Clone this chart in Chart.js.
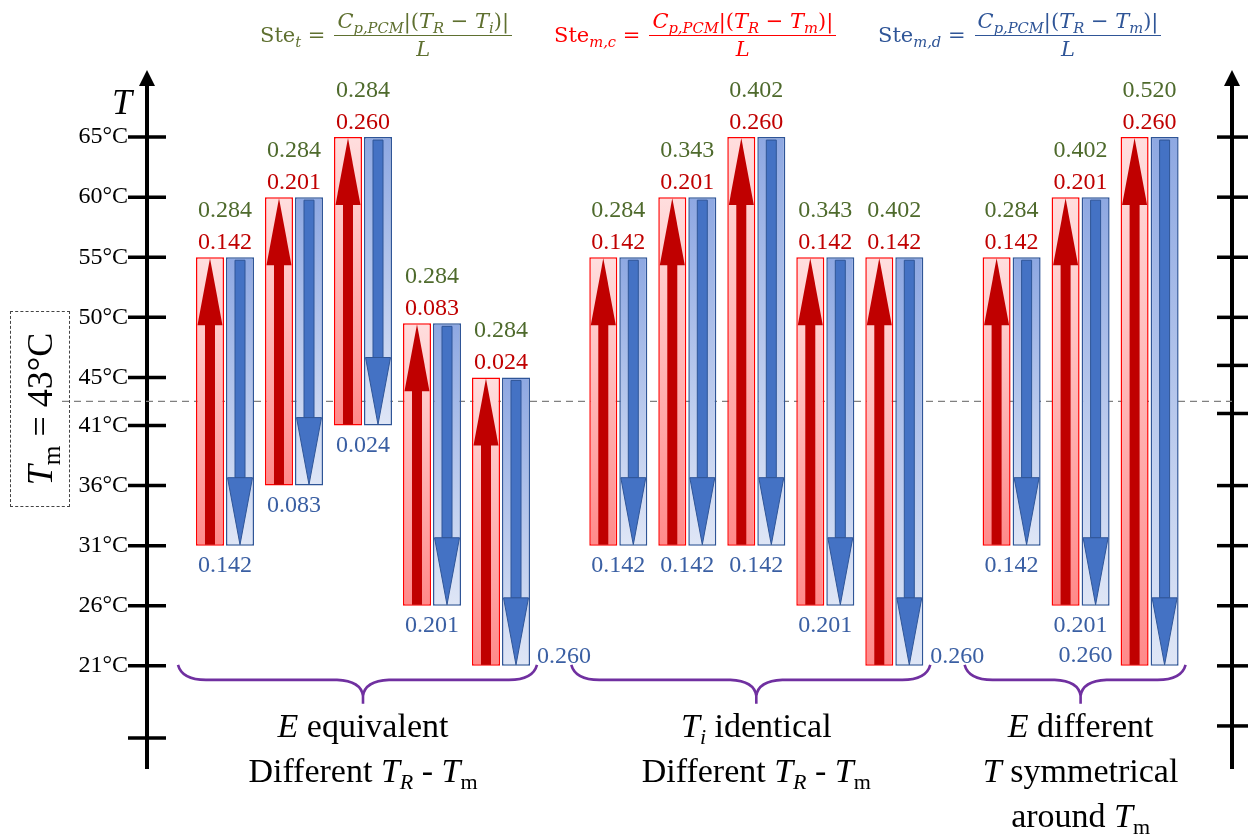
<!DOCTYPE html>
<html>
<head>
<meta charset="utf-8">
<script src="https://cdn.jsdelivr.net/npm/chart.js@4.4.1/dist/chart.umd.min.js"></script>
<style>
body { margin: 0; background: #fff; }
#wrap { position: relative; width: 1260px; height: 840px; overflow: hidden; }
#wrap canvas { position: absolute; left: 0; top: 0; }
.eq { position: absolute; top: 9px; display: flex; align-items: center; font-family: 'DejaVu Serif'; font-size: 21px; white-space: nowrap; }
.eq sub { font-size: 0.7em; vertical-align: -0.35em; line-height: 0; }
.fr { display: inline-flex; flex-direction: column; align-items: center; margin-left: 9px; }
.nu { border-bottom: 1.5px solid currentColor; padding: 0 3px 2px; }
.de { padding-top: 1px; }
#tm { position: absolute; left: 10px; top: 311px; width: 58px; height: 194px; border: 1px dashed #444; }
#tm span { position: absolute; left: 50%; top: 50%; transform: translate(-50%, -50%) rotate(-90deg); font: 36px 'Liberation Serif'; white-space: nowrap; }
#tm sub { font-size: 0.7em; vertical-align: -0.3em; line-height: 0; }
</style>
</head>
<body>
<div id="wrap">
	<canvas id="canvasStefan" width="1260" height="840"></canvas>

	<div class="eq" style="left:260px; color:#5f7030">
		<span>Ste<sub><i>t</i></sub> =</span>
		<span class="fr"><span class="nu"><i>C</i><sub><i>p,PCM</i></sub>|(<i>T</i><sub><i>R</i></sub> −&nbsp;<i>T</i><sub><i>i</i></sub>)|</span><span class="de"><i>L</i></span></span>
	</div>
	<div class="eq" style="left:554px; color:#ff0000">
		<span>Ste<sub><i>m,c</i></sub> =</span>
		<span class="fr"><span class="nu"><i>C</i><sub><i>p,PCM</i></sub>|(<i>T</i><sub><i>R</i></sub> −&nbsp;<i>T</i><sub><i>m</i></sub>)|</span><span class="de"><i>L</i></span></span>
	</div>
	<div class="eq" style="left:878px; color:#2f5597">
		<span>Ste<sub><i>m,d</i></sub> =</span>
		<span class="fr"><span class="nu"><i>C</i><sub><i>p,PCM</i></sub>|(<i>T</i><sub><i>R</i></sub> −&nbsp;<i>T</i><sub><i>m</i></sub>)|</span><span class="de"><i>L</i></span></span>
	</div>

	<div id="tm"><span><i>T</i><sub>m</sub> = 43°C</span></div>
</div>

<script>
"use strict"

// data
const groupSizes = [5, 5, 3]
const lowT = [31, 36, 41, 26, 21, 31, 31, 31, 26, 21, 31, 26, 21]
const highT = [55, 60, 65, 49.5, 45, 55, 60, 65, 55, 55, 55, 60, 65]
const steT = ['0.284', '0.284', '0.284', '0.284', '0.284', '0.284', '0.343', '0.402', '0.343', '0.402', '0.284', '0.402', '0.520']
const steMc = ['0.142', '0.201', '0.260', '0.083', '0.024', '0.142', '0.201', '0.260', '0.142', '0.142', '0.142', '0.201', '0.260']
const steMd = ['0.142', '0.083', '0.024', '0.201', '0.260', '0.142', '0.142', '0.142', '0.201', '0.260', '0.142', '0.201', '0.260']
const leftTicks = [65, 60, 55, 50, 45, 41, 36, 31, 26, 21, 15]
const rightTicks = [65, 60, 55, 50, 46, 42, 36, 31, 26, 21, 16]
const meltT = 43

// group captions, as runs of [text, style]  (i = italic, sub / isub = subscript)
const groupLabels = [
	[[['E', 'i'], [' equivalent']], [['Different '], ['T', 'i'], ['R', 'isub'], [' - '], ['T', 'i'], ['m', 'sub']]],
	[[['T', 'i'], ['i', 'isub'], [' identical']], [['Different '], ['T', 'i'], ['R', 'isub'], [' - '], ['T', 'i'], ['m', 'sub']]],
	[[['E', 'i'], [' different']], [['T', 'i'], [' symmetrical']], [['around '], ['T', 'i'], ['m', 'sub']]]
]

// slot positions: bars side by side in a group, wider gap between groups
const groupGap = 1.7
const slots = []
let pos = 0
groupSizes.forEach(function (n) {
	for (let k = 0; k < n; k++) slots.push(pos++)
	pos += groupGap - 1
})
const slotPx = 69
const firstOffsetPx = 78
const plotWidthPx = 1085
const xMin = -firstOffsetPx / slotPx
const xMax = xMin + plotWidthPx / slotPx

const serif = '"Liberation Serif", "Times New Roman", serif'
const green = '#4e6a2c', red = '#c00000', blue = '#3a5fa3'

function vGrad(topColor, bottomColor) {
	return function (ctx) {
		if (ctx.type !== 'data') return topColor
		const ys = ctx.chart.scales.y
		if (!ys) return topColor
		const y0 = ys.getPixelForValue(ctx.raw.y[1])
		const y1 = ys.getPixelForValue(ctx.raw.y[0])
		if (!isFinite(y0) || !isFinite(y1) || y0 === y1) return topColor
		const g = ctx.chart.ctx.createLinearGradient(0, y0, 0, y1)
		g.addColorStop(0, topColor)
		g.addColorStop(1, bottomColor)
		return g
	}
}

function richText(c, runs, cx, base, size, color) {
	const fontOf = function (st) {
		return (st.indexOf('i') >= 0 ? 'italic ' : '') + Math.round(st.indexOf('sub') >= 0 ? size * 0.66 : size) + 'px ' + serif
	}
	const widths = runs.map(function (r) {
		c.font = fontOf(r[1] || '')
		return c.measureText(r[0]).width
	})
	let x = cx - widths.reduce((a, b) => a + b, 0) / 2
	c.fillStyle = color
	c.textAlign = 'left'
	c.textBaseline = 'alphabetic'
	runs.forEach(function (r, i) {
		const st = r[1] || ''
		c.font = fontOf(st)
		c.fillText(r[0], x, base + (st.indexOf('sub') >= 0 ? size * 0.22 : 0))
		x += widths[i]
	})
}

function barBox(el) {
	const p = el.getProps(['x', 'y', 'base', 'width'], true)
	return { x: p.x, w: p.width, top: Math.min(p.y, p.base), bot: Math.max(p.y, p.base) }
}

// dashed melting temperature line, under the bars
const meltLinePlugin = {
	id: 'meltLine',
	beforeDatasetsDraw(chart) {
		const c = chart.ctx
		const y = chart.scales.y.getPixelForValue(meltT)
		c.save()
		c.strokeStyle = '#808080'
		c.lineWidth = 1.3
		c.setLineDash([7, 5])
		c.beginPath()
		c.moveTo(62, y)
		c.lineTo(chart.scales.y2.left, y)
		c.stroke()
		c.restore()
	}
}

// arrows inside the bars + value labels
const arrowPlugin = {
	id: 'arrows',
	afterDatasetsDraw(chart) {
		const c = chart.ctx
		const heat = chart.getDatasetMeta(0).data
		const cool = chart.getDatasetMeta(1).data
		const head = 68
		const lowest = Math.min.apply(null, lowT)
		c.save()
		heat.forEach(function (el) {
			const b = barBox(el)
			c.fillStyle = red
			c.fillRect(b.x - 5, b.top + head - 2, 10, b.bot - b.top - head + 1)
			c.beginPath()
			c.moveTo(b.x, b.top + 1)
			c.lineTo(b.x + b.w / 2 - 1.5, b.top + head)
			c.lineTo(b.x - b.w / 2 + 1.5, b.top + head)
			c.closePath()
			c.fill()
		})
		cool.forEach(function (el) {
			const b = barBox(el)
			c.fillStyle = '#4472c4'
			c.strokeStyle = '#2f5597'
			c.lineWidth = 1
			c.beginPath()
			c.rect(b.x - 5, b.top + 3, 10, b.bot - head - b.top - 3)
			c.fill()
			c.stroke()
			c.beginPath()
			c.moveTo(b.x - b.w / 2 + 1.5, b.bot - head)
			c.lineTo(b.x + b.w / 2 - 1.5, b.bot - head)
			c.lineTo(b.x, b.bot - 1)
			c.closePath()
			c.fill()
			c.stroke()
		})

		c.font = '24px ' + serif
		c.textBaseline = 'alphabetic'
		heat.forEach(function (el, i) {
			const h = barBox(el)
			const d = barBox(cool[i])
			const cx = (h.x + d.x) / 2
			c.textAlign = 'center'
			c.fillStyle = red
			c.fillText(steMc[i], cx, h.top - 8)
			c.fillStyle = green
			c.fillText(steT[i], cx, h.top - 40)
			c.fillStyle = blue
			if (lowT[i] === lowest) {
				if (i === lowT.length - 1) {
					c.textAlign = 'right'
					c.fillText(steMd[i], h.x - h.w / 2 - 8, d.bot - 4)
				} else {
					c.textAlign = 'left'
					c.fillText(steMd[i], d.x + d.w / 2 + 7, d.bot - 3)
				}
			} else {
				c.fillText(steMd[i], cx, d.bot + 26)
			}
		})
		c.restore()
	}
}

// axis arrows, crossing tick marks, braces and group captions
const decorPlugin = {
	id: 'decor',
	afterDraw(chart) {
		const c = chart.ctx
		const ys = chart.scales.y
		const ys2 = chart.scales.y2
		const top = chart.chartArea.top
		c.save()
		c.fillStyle = '#000'
		c.strokeStyle = '#000'
		;[ys.right, ys2.left].forEach(function (ax) {
			c.beginPath()
			c.moveTo(ax, top - 13)
			c.lineTo(ax + 8, top + 3)
			c.lineTo(ax - 8, top + 3)
			c.closePath()
			c.fill()
		})
		c.lineWidth = 3.5
		ys.ticks.forEach(function (t) {
			const y = ys.getPixelForValue(t.value)
			c.beginPath()
			c.moveTo(ys.right - 19, y)
			c.lineTo(ys.right + 19, y)
			c.stroke()
		})
		ys2.ticks.forEach(function (t) {
			const y = ys2.getPixelForValue(t.value)
			c.beginPath()
			c.moveTo(ys2.left - 15, y)
			c.lineTo(ys2.left + 16, y)
			c.stroke()
		})
		c.font = 'italic 36px ' + serif
		c.textAlign = 'left'
		c.fillText('T', ys.right - 35, top + 31)

		// braces
		const heat = chart.getDatasetMeta(0).data
		const cool = chart.getDatasetMeta(1).data
		const yBase = ys.getPixelForValue(Math.min.apply(null, lowT))
		const y0 = yBase - 1, y1 = yBase + 14, yTip = yBase + 38
		let start = 0
		groupSizes.forEach(function (n, g) {
			const first = (heat[start].x + cool[start].x) / 2
			const last = (heat[start + n - 1].x + cool[start + n - 1].x) / 2
			const x0 = first - 47, x1 = last + 36, xc = (first + last) / 2
			c.strokeStyle = '#7030a0'
			c.lineWidth = 2.6
			c.beginPath()
			c.moveTo(x0, y0)
			c.quadraticCurveTo(x0 + 4, y1, x0 + 28, y1)
			c.lineTo(xc - 26, y1)
			c.quadraticCurveTo(xc - 2, y1 + 1, xc, y1 + 16)
			c.lineTo(xc, yTip)
			c.moveTo(x1, y0)
			c.quadraticCurveTo(x1 - 4, y1, x1 - 28, y1)
			c.lineTo(xc + 26, y1)
			c.quadraticCurveTo(xc + 2, y1 + 1, xc, y1 + 16)
			c.stroke()
			groupLabels[g].forEach(function (line, k) {
				richText(c, line, xc, yBase + 71 + k * 45, 34, '#000')
			})
			start += n
		})
		c.restore()
	}
}

const context = document.getElementById('canvasStefan').getContext('2d')
const stefanChart = new Chart(context, {
	type: 'bar',
	data: {
		datasets: [{
			label: 'Charging',
			data: slots.map((s, i) => ({ x: s, y: [lowT[i], highT[i]] })),
			backgroundColor: vGrad('#ffdede', '#ff8a8a'),
			borderColor: '#ff0000',
			borderWidth: 1.5,
			borderSkipped: false
		}, {
			label: 'Discharging',
			data: slots.map((s, i) => ({ x: s, y: [lowT[i], highT[i]] })),
			backgroundColor: vGrad('#8ea8e2', '#dfe6f6'),
			borderColor: '#2f5597',
			borderWidth: 1.5,
			borderSkipped: false
		}]
	},
	options: {
		responsive: false,
		animation: false,
		categoryPercentage: 0.87,
		barPercentage: 0.933,
		layout: { padding: { top: 83, bottom: 72, left: 0, right: 0 } },
		plugins: { legend: { display: false }, tooltip: { enabled: false } },
		scales: {
			x: {
				type: 'linear',
				display: false,
				offset: false,
				min: xMin,
				max: xMax,
				afterBuildTicks: function (s) { s.ticks = slots.map(v => ({ value: v })) }
			},
			y: {
				position: 'left',
				min: 12.5,
				max: 69.5,
				afterBuildTicks: function (s) { s.ticks = leftTicks.map(v => ({ value: v })) },
				afterFit: function (s) { s.width = 147 },
				grid: { display: false, drawTicks: false },
				border: { display: true, color: '#000', width: 4 },
				ticks: {
					autoSkip: false,
					padding: 19,
					color: '#000',
					font: { family: serif, size: 24 },
					callback: function (v) { return v === leftTicks[leftTicks.length - 1] ? '' : v + '°C' }
				}
			},
			y2: {
				position: 'right',
				min: 12.5,
				max: 69.5,
				afterBuildTicks: function (s) { s.ticks = rightTicks.map(v => ({ value: v })) },
				afterFit: function (s) { s.width = 28 },
				grid: { display: false, drawTicks: false },
				border: { display: true, color: '#000', width: 4 },
				ticks: { display: false }
			}
		}
	},
	plugins: [meltLinePlugin, arrowPlugin, decorPlugin]
})
</script>
</body>
</html>
